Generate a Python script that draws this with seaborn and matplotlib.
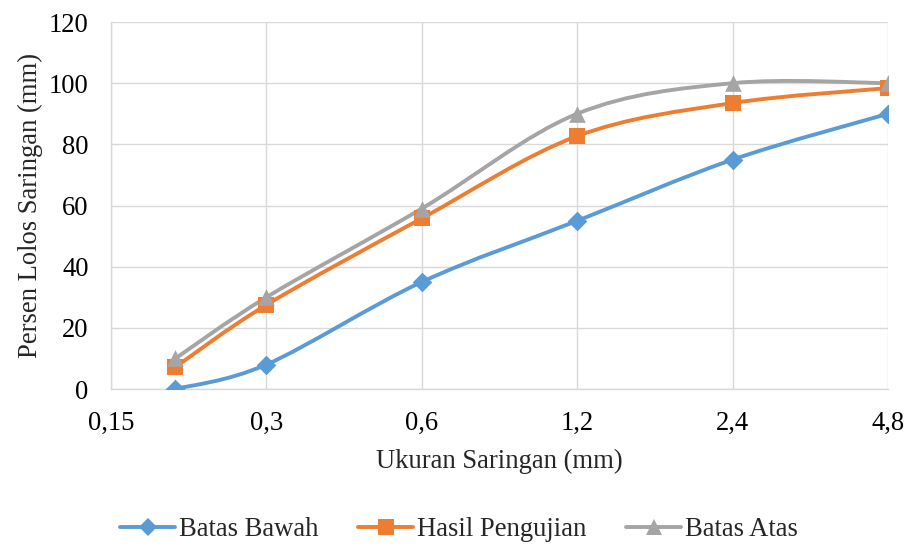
import numpy as np
import pandas as pd
import matplotlib
matplotlib.use("Agg")
import matplotlib.pyplot as plt
from matplotlib.path import Path
from matplotlib.patches import PathPatch
from matplotlib.lines import Line2D
from matplotlib.ticker import FixedLocator, FixedFormatter, NullLocator
import seaborn as sns

# ---- data ----
sieve_mm = [0.2, 0.3, 0.6, 1.2, 2.4, 4.8]
batas_bawah = [0, 8, 35, 55, 75, 90]
hasil_pengujian = [7.2, 27.5, 55.8, 82.7, 93.5, 98.4]
batas_atas = [10, 30, 59, 90, 100, 100]
series_names = ["Batas Bawah", "Hasil Pengujian", "Batas Atas"]
xtick_vals = [0.15, 0.3, 0.6, 1.2, 2.4, 4.8]
xtick_labels = ["0,15", "0,3", "0,6", "1,2", "2,4", "4,8"]
ytick_vals = [0, 20, 40, 60, 80, 100, 120]

colors = {"Batas Bawah": "#5B9BD5", "Hasil Pengujian": "#ED7D31", "Batas Atas": "#A5A5A5"}
markers = {"Batas Bawah": "D", "Hasil Pengujian": "s", "Batas Atas": "^"}
msizes = {"Batas Bawah": 10, "Hasil Pengujian": 11.5, "Batas Atas": 12}

df = pd.DataFrame({
    "x": sieve_mm * 3,
    "y": batas_bawah + hasil_pengujian + batas_atas,
    "series": [n for n in series_names for _ in sieve_mm],
})

FS = 19.2

sns.set_theme(style="white")
plt.rcParams["font.family"] = ["Liberation Serif", "DejaVu Serif"]

fig = plt.figure(figsize=(9.11, 5.45), dpi=100)
ax = fig.add_axes([0.1218, 0.2862, 0.9748 - 0.1218, 0.9596 - 0.2862])
ax.set_xscale("log", base=2)
ax.set_xlim(0.15, 4.8)
ax.set_ylim(0, 120)


def smooth_path(xs, ys):
    # Excel-like smoothed line: Catmull-Rom Bezier in log2(x) space
    u = np.log2(np.asarray(xs, float))
    v = np.asarray(ys, float)
    n = len(u)
    verts = [(xs[0], ys[0])]
    codes = [Path.MOVETO]
    for i in range(n - 1):
        im = max(i - 1, 0)
        ip = min(i + 2, n - 1)
        c1u = u[i] + (u[i + 1] - u[im]) / 6
        c1v = v[i] + (v[i + 1] - v[im]) / 6
        c2u = u[i + 1] - (u[ip] - u[i]) / 6
        c2v = v[i + 1] - (v[ip] - v[i]) / 6
        verts += [(2 ** c1u, c1v), (2 ** c2u, c2v), (xs[i + 1], ys[i + 1])]
        codes += [Path.CURVE4] * 3
    return Path(verts, codes)


for name in series_names:
    sub = df[df.series == name]
    patch = PathPatch(smooth_path(list(sub.x), list(sub.y)), facecolor="none",
                      edgecolor=colors[name], lw=2.8, capstyle="round",
                      joinstyle="round", zorder=3)
    ax.add_patch(patch)

for name in series_names:
    sub = df[df.series == name]
    sns.scatterplot(data=sub, x="x", y="y", ax=ax, marker=markers[name],
                    color=colors[name], s=msizes[name] ** 2, linewidth=0,
                    zorder=4, legend=False)

ax.xaxis.set_major_locator(FixedLocator(xtick_vals))
ax.xaxis.set_major_formatter(FixedFormatter(xtick_labels))
ax.xaxis.set_minor_locator(NullLocator())
ax.set_yticks(ytick_vals)
ax.grid(True, color="#D9D9D9", lw=1.0)
ax.set_axisbelow(True)
for s in ["top", "right"]:
    ax.spines[s].set_visible(False)
for s in ["left", "bottom"]:
    ax.spines[s].set_color("#D9D9D9")
    ax.spines[s].set_linewidth(1.0)
ax.tick_params(axis="both", length=0, labelsize=FS, colors="black")
ax.tick_params(axis="x", pad=16)
ax.tick_params(axis="y", pad=16)
ax.set_xlabel("Ukuran Saringan (mm)", fontsize=FS, labelpad=9)
ax.set_ylabel("Persen Lolos Saringan (mm)", fontsize=FS, labelpad=4)

handles = [Line2D([0], [0], color=colors[n], lw=2.8, marker=markers[n],
                  markersize=msizes[n] * 0.95, markeredgewidth=0) for n in series_names]
fig.legend(handles, series_names, loc="center", bbox_to_anchor=(0.504, 1 - 530 / 545),
           ncol=3, frameon=False, fontsize=FS, handlelength=2.05,
           handletextpad=0.15, columnspacing=1.5)

fig.savefig("out.png", dpi=100)
